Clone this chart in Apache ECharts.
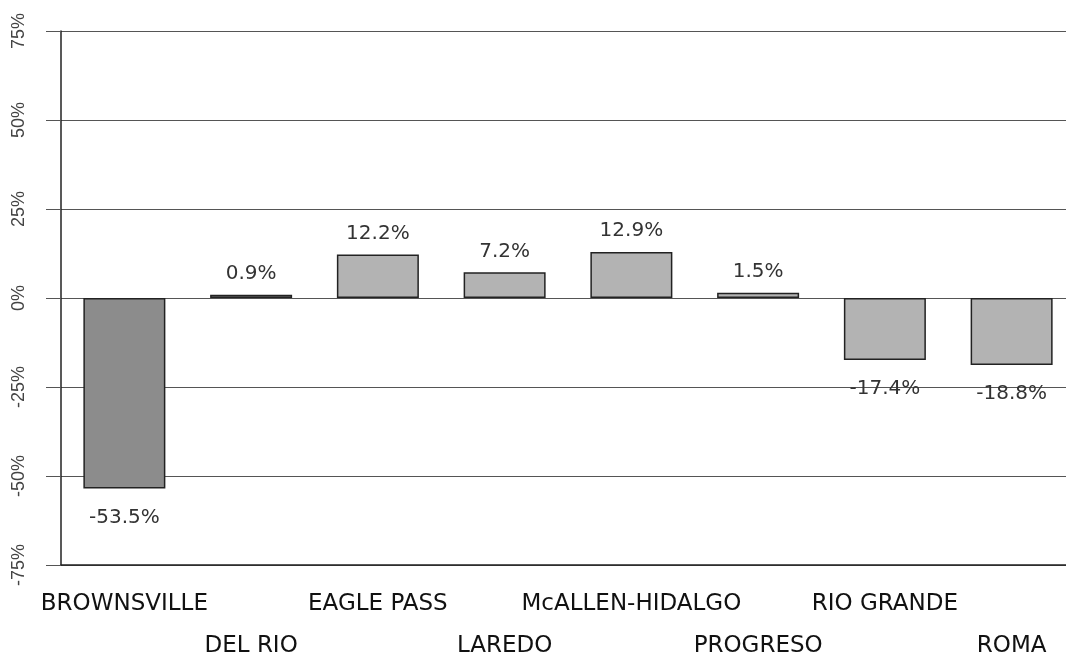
<!DOCTYPE html>
<html>
<head>
<meta charset="utf-8">
<script src="https://cdn.jsdelivr.net/npm/echarts@6/dist/echarts.min.js"></script>
<style>
  html, body { margin: 0; padding: 0; background: #fff; }
  #main { width: 1066px; height: 660px; }
</style>
</head>
<body>
<div id="main"></div>
<script>
// ports of entry
var ports = ['BROWNSVILLE', 'DEL RIO', 'EAGLE PASS', 'LAREDO', 'McALLEN-HIDALGO', 'PROGRESO', 'RIO GRANDE', 'ROMA']
// percent change
var change = [-53.5, 0.9, 12.2, 7.2, 12.9, 1.5, -17.4, -18.8]
var yTicks = [-75, -50, -25, 0, 25, 50, 75]

var chart = echarts.init(document.getElementById('main'))

var barData = []
for (let i = 0; i < change.length; i++) {
  let v = change[i]
  barData.push({
    value: v,
    itemStyle: { color: i === 0 ? '#8c8c8c' : '#b3b3b3' },
    label: v < 0 ? { position: 'bottom', distance: 19 } : { position: 'top', distance: 11 }
  })
}

chart.setOption({
  animation: false,
  backgroundColor: '#fff',
  grid: { left: 61, right: -9, top: 31, bottom: 95, outerBoundsMode: 'none', containLabel: false },
  xAxis: {
    type: 'category',
    data: ports,
    axisLine: { onZero: false, lineStyle: { color: '#222', width: 1.5 } },
    axisTick: { alignWithLabel: true, length: 13, lineStyle: { color: '#999' } },
    axisLabel: {
      interval: 0,
      margin: 18,
      color: '#111',
      fontFamily: 'DejaVu Sans',
      fontSize: 23,
      lineHeight: 42,
      formatter: function (v, i) {
        return i % 2 ? '\n' + v : v
      }
    }
  },
  yAxis: {
    type: 'value',
    min: yTicks[0],
    max: yTicks[yTicks.length - 1],
    interval: 25,
    axisLine: { show: true, lineStyle: { color: '#222', width: 1.5 } },
    axisTick: { show: true, length: 15, lineStyle: { color: '#555' } },
    splitLine: { lineStyle: { color: '#555', width: 1 } },
    axisLabel: {
      rotate: 90,
      margin: 33,
      color: '#444',
      fontFamily: 'Liberation Sans',
      fontSize: 18,
      formatter: '{value}%'
    }
  },
  series: [{
    type: 'bar',
    data: barData,
    barWidth: 82,
    itemStyle: { borderColor: '#222', borderWidth: 1.5 },
    label: {
      show: true,
      color: '#333',
      fontFamily: 'DejaVu Sans',
      fontSize: 20,
      formatter: function (p) { return p.value.toFixed(1) + '%' }
    }
  }]
})
</script>
</body>
</html>
